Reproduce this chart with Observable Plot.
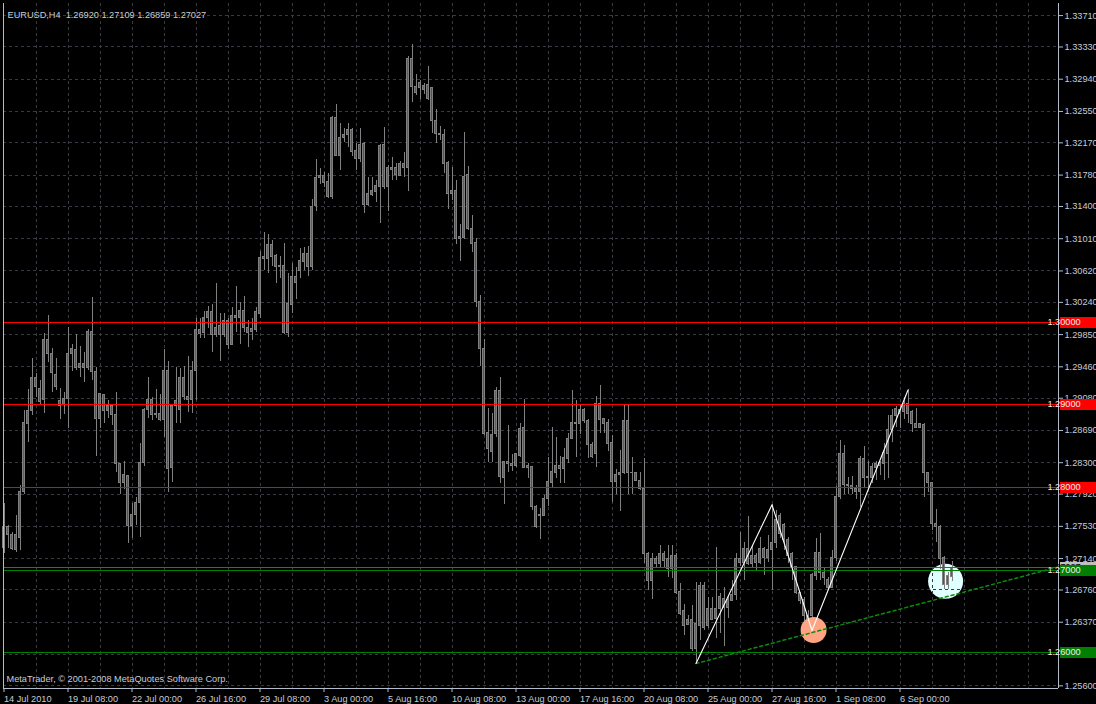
<!DOCTYPE html>
<html><head><meta charset="utf-8">
<script src="https://cdn.jsdelivr.net/npm/d3@7"></script>
<script src="https://cdn.jsdelivr.net/npm/@observablehq/plot@0.6"></script>
<style>html,body{margin:0;padding:0;background:#000;overflow:hidden}#chart svg{display:block}</style>
</head><body><div id="chart"></div>
<script>
const symbolTitle = "EURUSD,H4  1.26920 1.27109 1.26859 1.27027";
const copyright = "MetaTrader, \u00a9 2001-2008 MetaQuotes Software Corp.";

const openP = [
1.2727,1.2752,1.2743,1.2724,1.2739,1.2794,1.2877,1.2893,1.2933,1.2919,
1.2906,1.2979,1.2961,1.2936,1.2905,1.2900,1.2907,1.2962,1.2966,1.2945,
1.2945,1.2945,1.2988,1.2940,1.2883,1.2912,1.2892,1.2898,1.2888,1.2828,
1.2805,1.2814,1.2754,1.2767,1.2781,1.2830,1.2894,1.2906,1.2889,1.2889,
1.2882,1.2941,1.2823,1.2899,1.2894,1.2933,1.2910,1.2906,1.2941,1.2991,
1.2987,1.3005,1.3012,1.2985,1.2995,1.2985,1.3001,1.2973,1.3005,1.3005,
1.3014,1.2993,1.2988,1.2991,1.3010,1.3079,1.3077,1.3094,1.3080,1.3068,
1.3068,1.2987,1.3021,1.3055,1.3062,1.3073,1.3082,1.3067,1.3140,1.3175,
1.3177,1.3170,1.3152,1.3247,1.3201,1.3223,1.3227,1.3232,1.3207,1.3198,
1.3216,1.3142,1.3154,1.3158,1.3163,1.3215,1.3163,1.3184,1.3186,1.3177,
1.3192,1.3186,1.3318,1.3285,1.3290,1.3281,1.3287,1.3283,1.3244,1.3228,
1.3226,1.3193,1.3155,1.3159,1.3101,1.3102,1.3178,1.3113,1.3096,1.3025,
1.2968,1.2866,1.2843,1.2865,1.2917,1.2812,1.2831,1.2828,1.2826,1.2838,
1.2872,1.2826,1.2825,1.2777,1.2765,1.2766,1.2786,1.2806,1.2818,1.2826,
1.2822,1.2835,1.2859,1.2877,1.2877,1.2894,1.2880,1.2851,1.2840,1.2901,
1.2883,1.2878,1.2854,1.2807,1.2815,1.2817,1.2880,1.2817,1.2817,1.2808,
1.2798,1.2720,1.2687,1.2713,1.2707,1.2720,1.2713,1.2701,1.2717,1.2673,
1.2650,1.2634,1.2640,1.2604,1.2633,1.2681,1.2633,1.2653,1.2641,1.2653,
1.2665,1.2654,1.2663,1.2670,1.2714,1.2709,1.2726,1.2708,1.2717,1.2709,
1.2726,1.2715,1.2724,1.2733,1.2765,1.2755,1.2736,1.2719,1.2704,1.2672,
1.2664,1.2645,1.2644,1.2693,1.2721,1.2696,1.2688,1.2679,1.2715,1.2788,
1.2841,1.2803,1.2798,1.2798,1.2794,1.2835,1.2811,1.2812,1.2824,1.2826,
1.2829,1.2841,1.2869,1.2886,1.2894,1.2891,1.2901,1.2891,1.2877,1.2872,
1.2876,1.2817,1.2805,1.2756,1.2752,1.2715,1.2682,1.26920];

const highP = [
1.2781,1.2754,1.2745,1.2766,1.2803,1.2893,1.2918,1.2956,1.2938,1.2930,
1.2986,1.3008,1.2968,1.2956,1.2920,1.2915,1.2993,1.2973,1.2985,1.2970,
1.2963,1.2991,1.3030,1.2945,1.2913,1.2913,1.2905,1.2899,1.2915,1.2829,
1.2831,1.2815,1.2781,1.2788,1.2853,1.2896,1.2933,1.2909,1.2918,1.2913,
1.2967,1.2952,1.2901,1.2945,1.2944,1.2947,1.2959,1.2953,1.3005,1.3005,
1.3013,1.3019,1.3022,1.3047,1.3010,1.3010,1.3004,1.3018,1.3043,1.3024,
1.3031,1.3002,1.3005,1.3018,1.3085,1.3108,1.3106,1.3099,1.3082,1.3079,
1.3095,1.3059,1.3071,1.3066,1.3089,1.3090,1.3091,1.3149,1.3197,1.3186,
1.3181,1.3180,1.3249,1.3263,1.3240,1.3234,1.3240,1.3234,1.3216,1.3234,
1.3217,1.3175,1.3175,1.3172,1.3215,1.3235,1.3189,1.3199,1.3192,1.3195,
1.3205,1.3321,1.3336,1.3300,1.3292,1.3289,1.3309,1.3284,1.3257,1.3237,
1.3233,1.3195,1.3187,1.3172,1.3118,1.3229,1.3188,1.3129,1.3101,1.3032,
1.2979,1.2896,1.2889,1.2921,1.2933,1.2832,1.2875,1.2840,1.2841,1.2878,
1.2907,1.2829,1.2826,1.2778,1.2774,1.2790,1.2836,1.2872,1.2861,1.2837,
1.2847,1.2865,1.2917,1.2905,1.2901,1.2895,1.2882,1.2855,1.2910,1.2923,
1.2884,1.2882,1.2863,1.2822,1.2845,1.2901,1.2901,1.2836,1.2818,1.2818,
1.2835,1.2721,1.2720,1.2716,1.2730,1.2722,1.2730,1.2730,1.2720,1.2684,
1.2658,1.2645,1.2657,1.2685,1.2685,1.2685,1.2667,1.2667,1.2727,1.2672,
1.2679,1.2669,1.2687,1.2720,1.2745,1.2733,1.2765,1.2730,1.2720,1.2739,
1.2727,1.2742,1.2779,1.2772,1.2768,1.2756,1.2739,1.2721,1.2705,1.2673,
1.2667,1.2651,1.2696,1.2738,1.2744,1.2703,1.2691,1.2724,1.2801,1.2857,
1.2851,1.2812,1.2813,1.2803,1.2838,1.2849,1.2831,1.2829,1.2832,1.2832,
1.2853,1.2887,1.2894,1.2898,1.2901,1.2909,1.2918,1.2893,1.2895,1.2878,
1.2877,1.2818,1.2806,1.2773,1.2754,1.2717,1.2697,1.27109];

const lowP = [
1.2720,1.2726,1.2724,1.2721,1.2724,1.2792,1.2855,1.2887,1.2909,1.2901,
1.2889,1.2951,1.2915,1.2917,1.2882,1.2888,1.2871,1.2940,1.2941,1.2933,
1.2927,1.2942,1.2930,1.2838,1.2871,1.2878,1.2883,1.2875,1.2818,1.2792,
1.2798,1.2732,1.2738,1.2754,1.2740,1.2825,1.2884,1.2881,1.2883,1.2880,
1.2860,1.2794,1.2806,1.2878,1.2877,1.2905,1.2891,1.2889,1.2905,1.2980,
1.2980,1.2992,1.2963,1.2981,1.2952,1.2981,1.2967,1.2973,1.2987,1.2973,
1.2987,1.2969,1.2978,1.2987,1.3005,1.3062,1.3059,1.3067,1.3047,1.3053,
1.2985,1.2981,1.3010,1.3027,1.3053,1.3062,1.3055,1.3063,1.3134,1.3166,
1.3163,1.3150,1.3148,1.3200,1.3184,1.3218,1.3211,1.3201,1.3184,1.3193,
1.3131,1.3140,1.3152,1.3145,1.3119,1.3161,1.3134,1.3172,1.3172,1.3176,
1.3175,1.3158,1.3266,1.3274,1.3270,1.3276,1.3268,1.3228,1.3216,1.3220,
1.3180,1.3136,1.3147,1.3094,1.3074,1.3100,1.3111,1.3084,1.3018,1.2947,
1.2863,1.2830,1.2830,1.2861,1.2805,1.2779,1.2818,1.2819,1.2824,1.2836,
1.2823,1.2811,1.2772,1.2750,1.2737,1.2765,1.2777,1.2800,1.2811,1.2805,
1.2805,1.2829,1.2858,1.2836,1.2864,1.2877,1.2835,1.2835,1.2824,1.2865,
1.2865,1.2843,1.2782,1.2792,1.2771,1.2816,1.2792,1.2792,1.2807,1.2796,
1.2708,1.2675,1.2664,1.2703,1.2702,1.2703,1.2691,1.2690,1.2670,1.2645,
1.2621,1.2633,1.2602,1.2587,1.2615,1.2627,1.2629,1.2639,1.2617,1.2623,
1.2608,1.2642,1.2662,1.2663,1.2705,1.2688,1.2706,1.2703,1.2699,1.2707,
1.2694,1.2709,1.2675,1.2726,1.2738,1.2724,1.2708,1.2687,1.2671,1.2659,
1.2633,1.2630,1.2627,1.2687,1.2687,1.2681,1.2675,1.2678,1.2711,1.2786,
1.2792,1.2792,1.2792,1.2785,1.2776,1.2800,1.2800,1.2805,1.2808,1.2815,
1.2809,1.2811,1.2854,1.2872,1.2871,1.2882,1.2877,1.2866,1.2871,1.2871,
1.2788,1.2794,1.2748,1.2734,1.2701,1.2676,1.2676,1.26859];

const closeP = [
1.2752,1.2742,1.2726,1.2742,1.2794,1.2878,1.2893,1.2932,1.2921,1.2904,
1.2979,1.2961,1.2938,1.2921,1.2899,1.2907,1.2962,1.2967,1.2945,1.2949,
1.2949,1.2988,1.2940,1.2883,1.2913,1.2892,1.2899,1.2888,1.2828,1.2805,
1.2815,1.2754,1.2767,1.2781,1.2830,1.2894,1.2906,1.2888,1.2888,1.2882,
1.2941,1.2822,1.2899,1.2905,1.2932,1.2910,1.2906,1.2941,1.2991,1.2986,
1.3005,1.3012,1.2985,1.2993,1.2985,1.3002,1.2973,1.3007,1.3008,1.3014,
1.2993,1.2987,1.2992,1.3012,1.3078,1.3076,1.3093,1.3079,1.3067,1.3067,
1.2987,1.3022,1.3055,1.3048,1.3074,1.3082,1.3067,1.3139,1.3175,1.3177,
1.3169,1.3152,1.3247,1.3201,1.3223,1.3227,1.3232,1.3206,1.3198,1.3215,
1.3142,1.3155,1.3159,1.3165,1.3213,1.3163,1.3187,1.3187,1.3178,1.3192,
1.3186,1.3318,1.3285,1.3277,1.3283,1.3286,1.3270,1.3243,1.3228,1.3226,
1.3192,1.3155,1.3159,1.3101,1.3103,1.3176,1.3113,1.3095,1.3025,1.2968,
1.2865,1.2846,1.2864,1.2917,1.2813,1.2831,1.2828,1.2826,1.2840,1.2871,
1.2824,1.2824,1.2776,1.2752,1.2767,1.2786,1.2807,1.2819,1.2826,1.2822,
1.2836,1.2859,1.2878,1.2878,1.2894,1.2880,1.2851,1.2837,1.2901,1.2882,
1.2877,1.2853,1.2807,1.2815,1.2818,1.2880,1.2817,1.2818,1.2808,1.2798,
1.2720,1.2687,1.2714,1.2708,1.2720,1.2711,1.2701,1.2717,1.2672,1.2647,
1.2633,1.2640,1.2604,1.2635,1.2681,1.2630,1.2653,1.2640,1.2653,1.2667,
1.2654,1.2664,1.2670,1.2714,1.2709,1.2726,1.2708,1.2717,1.2709,1.2726,
1.2715,1.2724,1.2733,1.2761,1.2744,1.2736,1.2717,1.2703,1.2672,1.2663,
1.2645,1.2639,1.2694,1.2721,1.2696,1.2690,1.2679,1.2715,1.2789,1.2841,
1.2803,1.2802,1.2802,1.2794,1.2835,1.2812,1.2813,1.2825,1.2829,1.2830,
1.2842,1.2869,1.2887,1.2895,1.2889,1.2901,1.2889,1.2877,1.2872,1.2877,
1.2817,1.2805,1.2756,1.2752,1.2714,1.2682,1.2693,1.27027];

// time axis: one label every 16 H4 bars, starting at bar 0
const xTickIndex = [0,16,32,48,64,80,96,112,128,144,160,176,192,208,224];
const xTickLabels = ["14 Jul 2010","19 Jul 08:00","22 Jul 00:00","26 Jul 16:00","29 Jul 08:00",
  "3 Aug 00:00","5 Aug 16:00","10 Aug 08:00","13 Aug 00:00","17 Aug 16:00","20 Aug 08:00",
  "25 Aug 00:00","27 Aug 16:00","1 Sep 08:00","6 Sep 00:00"];
const xGridIndex = [8,16,24,32,40,48,56,64,72,80,88,96,104,112,120,128,136,144,152,160,168,176,184,192,200,208,216,224,232,240,248,256];

// price axis
const yGridValues = [1.3371,1.3333,1.3294,1.3255,1.3217,1.3178,1.3140,1.3101,1.3062,1.3024,1.2985,
  1.2946,1.2908,1.2869,1.2830,1.2792,1.2753,1.2714,1.2676,1.2637,1.2598,1.2560];
const yLabelValues = [1.3371,1.3333,1.3294,1.3255,1.3217,1.3178,1.3140,1.3101,1.3062,1.3024,1.2985,
  1.2946,1.2908,1.2869,1.2830,1.2792,1.2753,1.2714,1.2676,1.2637,1.2560];
const yDomain = [1.25568, 1.33856];

// horizontal levels
const levelPrices = [1.3000, 1.2900, 1.2800, 1.2700, 1.2600];
const levelColors = ["#ff0000", "#ff0000", "#ff0000", "#008000", "#008000"];
const bidPrice = 1.27027;

// drawn objects
const zigzagIndex = [173, 192, 202, 226];
const zigzagPrice = [1.2587, 1.2779, 1.2627, 1.2918];
const trendIndex = [173, 263.625];
const trendPrice = [1.2587, 1.2704];
const cyanCircle = {index: 235.4, price: 1.26865, radius: 17.5, color: "#e0ffff"};
const salmonCircle = {index: 202.4, price: 1.26275, radius: 13, color: "#ffa482"};

const bars = openP.map((o, i) => {
  const c = closeP[i];
  let lo = Math.min(o, c), hi = Math.max(o, c);
  if (hi - lo < 0.0001) { const m = (hi + lo) / 2; lo = m - 0.00005; hi = m + 0.00005; }
  return {i, o, h: highP[i], l: lowP[i], c, lo, hi,
    col: c > o ? "#1c8c1c" : c < o ? "#e81414" : "#808080"};
});
const labelMap = new Map(xTickIndex.map((d, k) => [d, xTickLabels[k]]));
const fmt5 = d3.format(".5f");
const zigzag = zigzagIndex.map((d, k) => ({x: d, y: zigzagPrice[k]}));
const trend = trendIndex.map((d, k) => ({x: d, y: trendPrice[k]}));
const levels = levelPrices.map((p, k) => ({p, color: levelColors[k]}));

const AXIS = "#b4bccc", TXT = "#c8ccd6", GRID = "#363a44", WICK = "#808080";

function priceLabels(index, scales, values, dimensions) {
  const {width, marginRight} = dimensions;
  const x0 = width - marginRight + 2;
  const g = d3.create("svg:g");
  const items = [{p: bidPrice, bg: "#c0c0c0", fg: "#000000"}]
    .concat(levels.map(l => ({p: l.p, bg: l.color, fg: "#f0f0f0"})));
  for (const it of items) {
    const y = Math.round(scales.y(it.p));
    g.append("rect").attr("x", x0).attr("y", y - 5).attr("width", width - x0).attr("height", 11).attr("fill", it.bg);
    g.append("text").attr("x", x0 + 4).attr("y", y).attr("dy", "0.36em").attr("fill", it.fg).text(fmt5(it.p));
  }
  return g.node();
}

const chart = Plot.plot({
  width: 1096, height: 704,
  marginLeft: 3, marginRight: 38, marginTop: 3, marginBottom: 16,
  style: {background: "#000000", color: TXT, fontFamily: "'Liberation Sans', Arial, sans-serif", fontSize: "9.2px"},
  x: {domain: [-0.125, 263.625]},
  y: {domain: yDomain},
  marks: [
    Plot.dot([cyanCircle], {x: "index", y: "price", r: cyanCircle.radius, fill: cyanCircle.color, stroke: null}),
    Plot.ruleY(yGridValues, {stroke: GRID, strokeDasharray: "3,3", shapeRendering: "crispEdges"}),
    Plot.ruleX(xGridIndex, {stroke: GRID, strokeDasharray: "3,3", shapeRendering: "crispEdges"}),
    Plot.ruleX(bars, {x: "i", y1: "l", y2: "h", stroke: WICK, shapeRendering: "crispEdges"}),
    Plot.rect(bars, {x1: d => d.i - 0.25, x2: d => d.i + 0.25, y1: "lo", y2: "hi", fill: "col", stroke: WICK, shapeRendering: "crispEdges"}),
    Plot.ruleY([bidPrice], {stroke: "#585858", shapeRendering: "crispEdges"}),
    Plot.ruleY(levels, {y: "p", stroke: "color", shapeRendering: "crispEdges"}),
    Plot.dot([salmonCircle], {x: "index", y: "price", r: salmonCircle.radius, fill: salmonCircle.color, stroke: null}),
    Plot.line(trend, {x: "x", y: "y", stroke: "#0a8c0a", strokeDasharray: "3,3"}),
    Plot.line(zigzag, {x: "x", y: "y", stroke: "#ffffff", strokeWidth: 1.1}),
    Plot.ruleX([-0.125, 263.625], {stroke: AXIS, shapeRendering: "crispEdges"}),
    Plot.ruleY([yDomain[0]], {stroke: AXIS, shapeRendering: "crispEdges"}),
    Plot.axisY({anchor: "right", ticks: yLabelValues, tickFormat: fmt5, tickSize: 4, tickPadding: 2, stroke: AXIS, fill: TXT, label: null}),
    Plot.axisX({anchor: "bottom", ticks: xTickIndex, tickFormat: d => labelMap.get(d), tickSize: 4, tickPadding: 3, textAnchor: "start", stroke: AXIS, fill: TXT, label: null}),
    priceLabels,
    Plot.text([symbolTitle], {frameAnchor: "top-left", dx: 4, dy: 8, text: d => d, textAnchor: "start", fill: TXT}),
    Plot.text([copyright], {frameAnchor: "bottom-left", dx: 3, dy: -7, text: d => d, textAnchor: "start", fill: TXT})
  ]
});
document.getElementById("chart").appendChild(chart);
</script>
</body></html>
